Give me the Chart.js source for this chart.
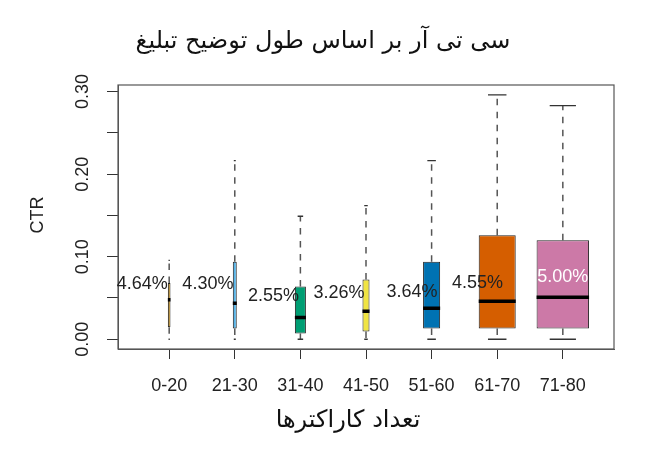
<!DOCTYPE html>
<html><head><meta charset="utf-8">
<script src="https://cdn.jsdelivr.net/npm/chart.js@4.4.1/dist/chart.umd.min.js"></script>
<style>html,body{margin:0;padding:0;background:#fff;}canvas{display:block;}</style>
</head><body>
<canvas id="c" width="645" height="465"></canvas>
<script>
// ---- data ----
const categories = ['0-20','21-30','31-40','41-50','51-60','61-70','71-80'];
const whiskerLow  = [0.000, 0.000, 0.000, 0.000, 0.000, 0.000, 0.000];
const q1          = [0.0145, 0.013, 0.007, 0.0095, 0.013, 0.013, 0.013];
const median      = [0.048, 0.0435, 0.0265, 0.034, 0.0375, 0.046, 0.051];
const q3          = [0.068, 0.094, 0.064, 0.0725, 0.094, 0.126, 0.120];
const whiskerHigh = [0.0955, 0.2165, 0.149, 0.162, 0.2165, 0.296, 0.283];
const meanLabels  = ['4.64%','4.30%','2.55%','3.26%','3.64%','4.55%','5.00%'];
const yTickLabels = ['0.00','0.10','0.20','0.30'];
const yTickValues = [0, 0.10, 0.20, 0.30];
const titleText = 'سی تی آر بر اساس طول توضیح تبلیغ';
const xTitleText = 'تعداد کاراکترها';
const yTitleText = 'CTR';

// ---- styles / placement ----
const boxColors = ['#E69F00','#56B4E9','#009E73','#F0E442','#0072B2','#D55E00','#CC79A7'];
const boxWidthFrac = [0.04, 0.06, 0.168, 0.107, 0.26, 0.564, 0.8];
const labelDx = [-0.41,-0.41,-0.41,-0.41,-0.30,-0.30,0];
const labelY  = [0.067,0.067,0.0526,0.0562,0.0574,0.068,0.0756];
const labelColors = ['#222','#222','#222','#222','#222','#222','#ffffff'];
const LATIN = '"Liberation Sans", Arial, sans-serif';
const ARABIC = '"DejaVu Sans", "Noto Sans", sans-serif';

// ---- datasets ----
const barSets = categories.map((c, i) => ({
  type: 'bar',
  label: c,
  data: [{x: i + 1, y: [q1[i], q3[i]]}],
  backgroundColor: boxColors[i],
  borderColor: '#222',
  borderWidth: 1,
  borderSkipped: false,
  grouped: false,
  categoryPercentage: 1,
  barPercentage: boxWidthFrac[i],
  order: 2
}));

const whiskerData = [];
const capData = [];
const medianData = [];
categories.forEach((c, i) => {
  const x = i + 1, hw = boxWidthFrac[i] / 2, cw = boxWidthFrac[i] / 4;
  whiskerData.push({x, y: q3[i]}, {x, y: whiskerHigh[i]}, {x, y: null},
                   {x, y: q1[i]}, {x, y: whiskerLow[i]}, {x, y: null});
  capData.push({x: x - cw, y: whiskerHigh[i]}, {x: x + cw, y: whiskerHigh[i]}, {x, y: null},
               {x: x - cw, y: whiskerLow[i]}, {x: x + cw, y: whiskerLow[i]}, {x, y: null});
  medianData.push({x: x - hw, y: median[i]}, {x: x + hw, y: median[i]}, {x, y: null});
});

const lineBase = {type: 'line', showLine: true, spanGaps: false, pointRadius: 0, pointHitRadius: 0, fill: false, tension: 0};
const datasets = [
  Object.assign({}, lineBase, {label: 'whiskers', data: whiskerData, borderColor: '#555', borderWidth: 1.5, borderDash: [6.5, 6.5], order: 3}),
  ...barSets,
  Object.assign({}, lineBase, {label: 'caps', data: capData, borderColor: '#333', borderWidth: 1.3, order: 1}),
  Object.assign({}, lineBase, {label: 'median', data: medianData, borderColor: '#000', borderWidth: 3.5, borderCapStyle: 'butt', order: 1})
];

const annotate = {
  id: 'annotate',
  afterDraw(chart) {
    const {ctx, chartArea: a, scales: {x, y}} = chart;
    ctx.save();
    // frame
    ctx.strokeStyle = '#555';
    ctx.lineWidth = 1.2;
    ctx.strokeRect(a.left, a.top, a.right - a.left, a.bottom - a.top);
    // y tick labels (rotated, R style)
    ctx.fillStyle = '#222';
    ctx.font = '18px ' + LATIN;
    ctx.textAlign = 'center';
    ctx.textBaseline = 'middle';
    yTickValues.forEach((v, k) => {
      ctx.save();
      ctx.translate(83, y.getPixelForValue(v));
      ctx.rotate(-Math.PI / 2);
      ctx.fillText(yTickLabels[k], 0, 0);
      ctx.restore();
    });
    // y title
    ctx.save();
    ctx.translate(38, 215);
    ctx.rotate(-Math.PI / 2);
    ctx.fillText(yTitleText, 0, 0);
    ctx.restore();
    // mean labels
    meanLabels.forEach((t, i) => {
      ctx.fillStyle = labelColors[i];
      ctx.fillText(t, x.getPixelForValue(i + 1 + labelDx[i]), y.getPixelForValue(labelY[i]));
    });
    // titles
    ctx.fillStyle = '#111';
    ctx.font = '24px ' + ARABIC;
    ctx.direction = 'rtl';
    ctx.fillText(titleText, 323, 42);
    ctx.fillText(xTitleText, 348, 421);
    ctx.restore();
  }
};

new Chart(document.getElementById('c'), {
  data: {datasets},
  options: {
    responsive: false,
    animation: false,
    devicePixelRatio: 1,
    events: [],
    layout: {padding: {top: 85, right: 31, left: 0, bottom: 0}},
    plugins: {legend: {display: false}, tooltip: {enabled: false}, title: {display: false}},
    scales: {
      x: {
        type: 'linear', min: 0.22, max: 7.78, offset: false,
        afterBuildTicks: s => { s.ticks = categories.map((c, i) => ({value: i + 1})); },
        afterFit: s => { s.height = 116; },
        ticks: {autoSkip: false, maxRotation: 0, minRotation: 0, padding: 16, color: '#222',
                font: {family: LATIN, size: 18}, callback: (v, idx) => categories[idx]},
        grid: {drawOnChartArea: false, offset: false, tickLength: 10, color: '#333'},
        border: {display: true, color: '#555'}
      },
      y: {
        type: 'linear', min: -0.0118, max: 0.308,
        afterFit: s => { s.width = 118; },
        ticks: {stepSize: 0.05, includeBounds: false, display: false},
        grid: {drawOnChartArea: false, tickLength: 11, color: '#333'},
        border: {display: true, color: '#555'}
      }
    }
  },
  plugins: [annotate]
});
</script>
</body></html>
